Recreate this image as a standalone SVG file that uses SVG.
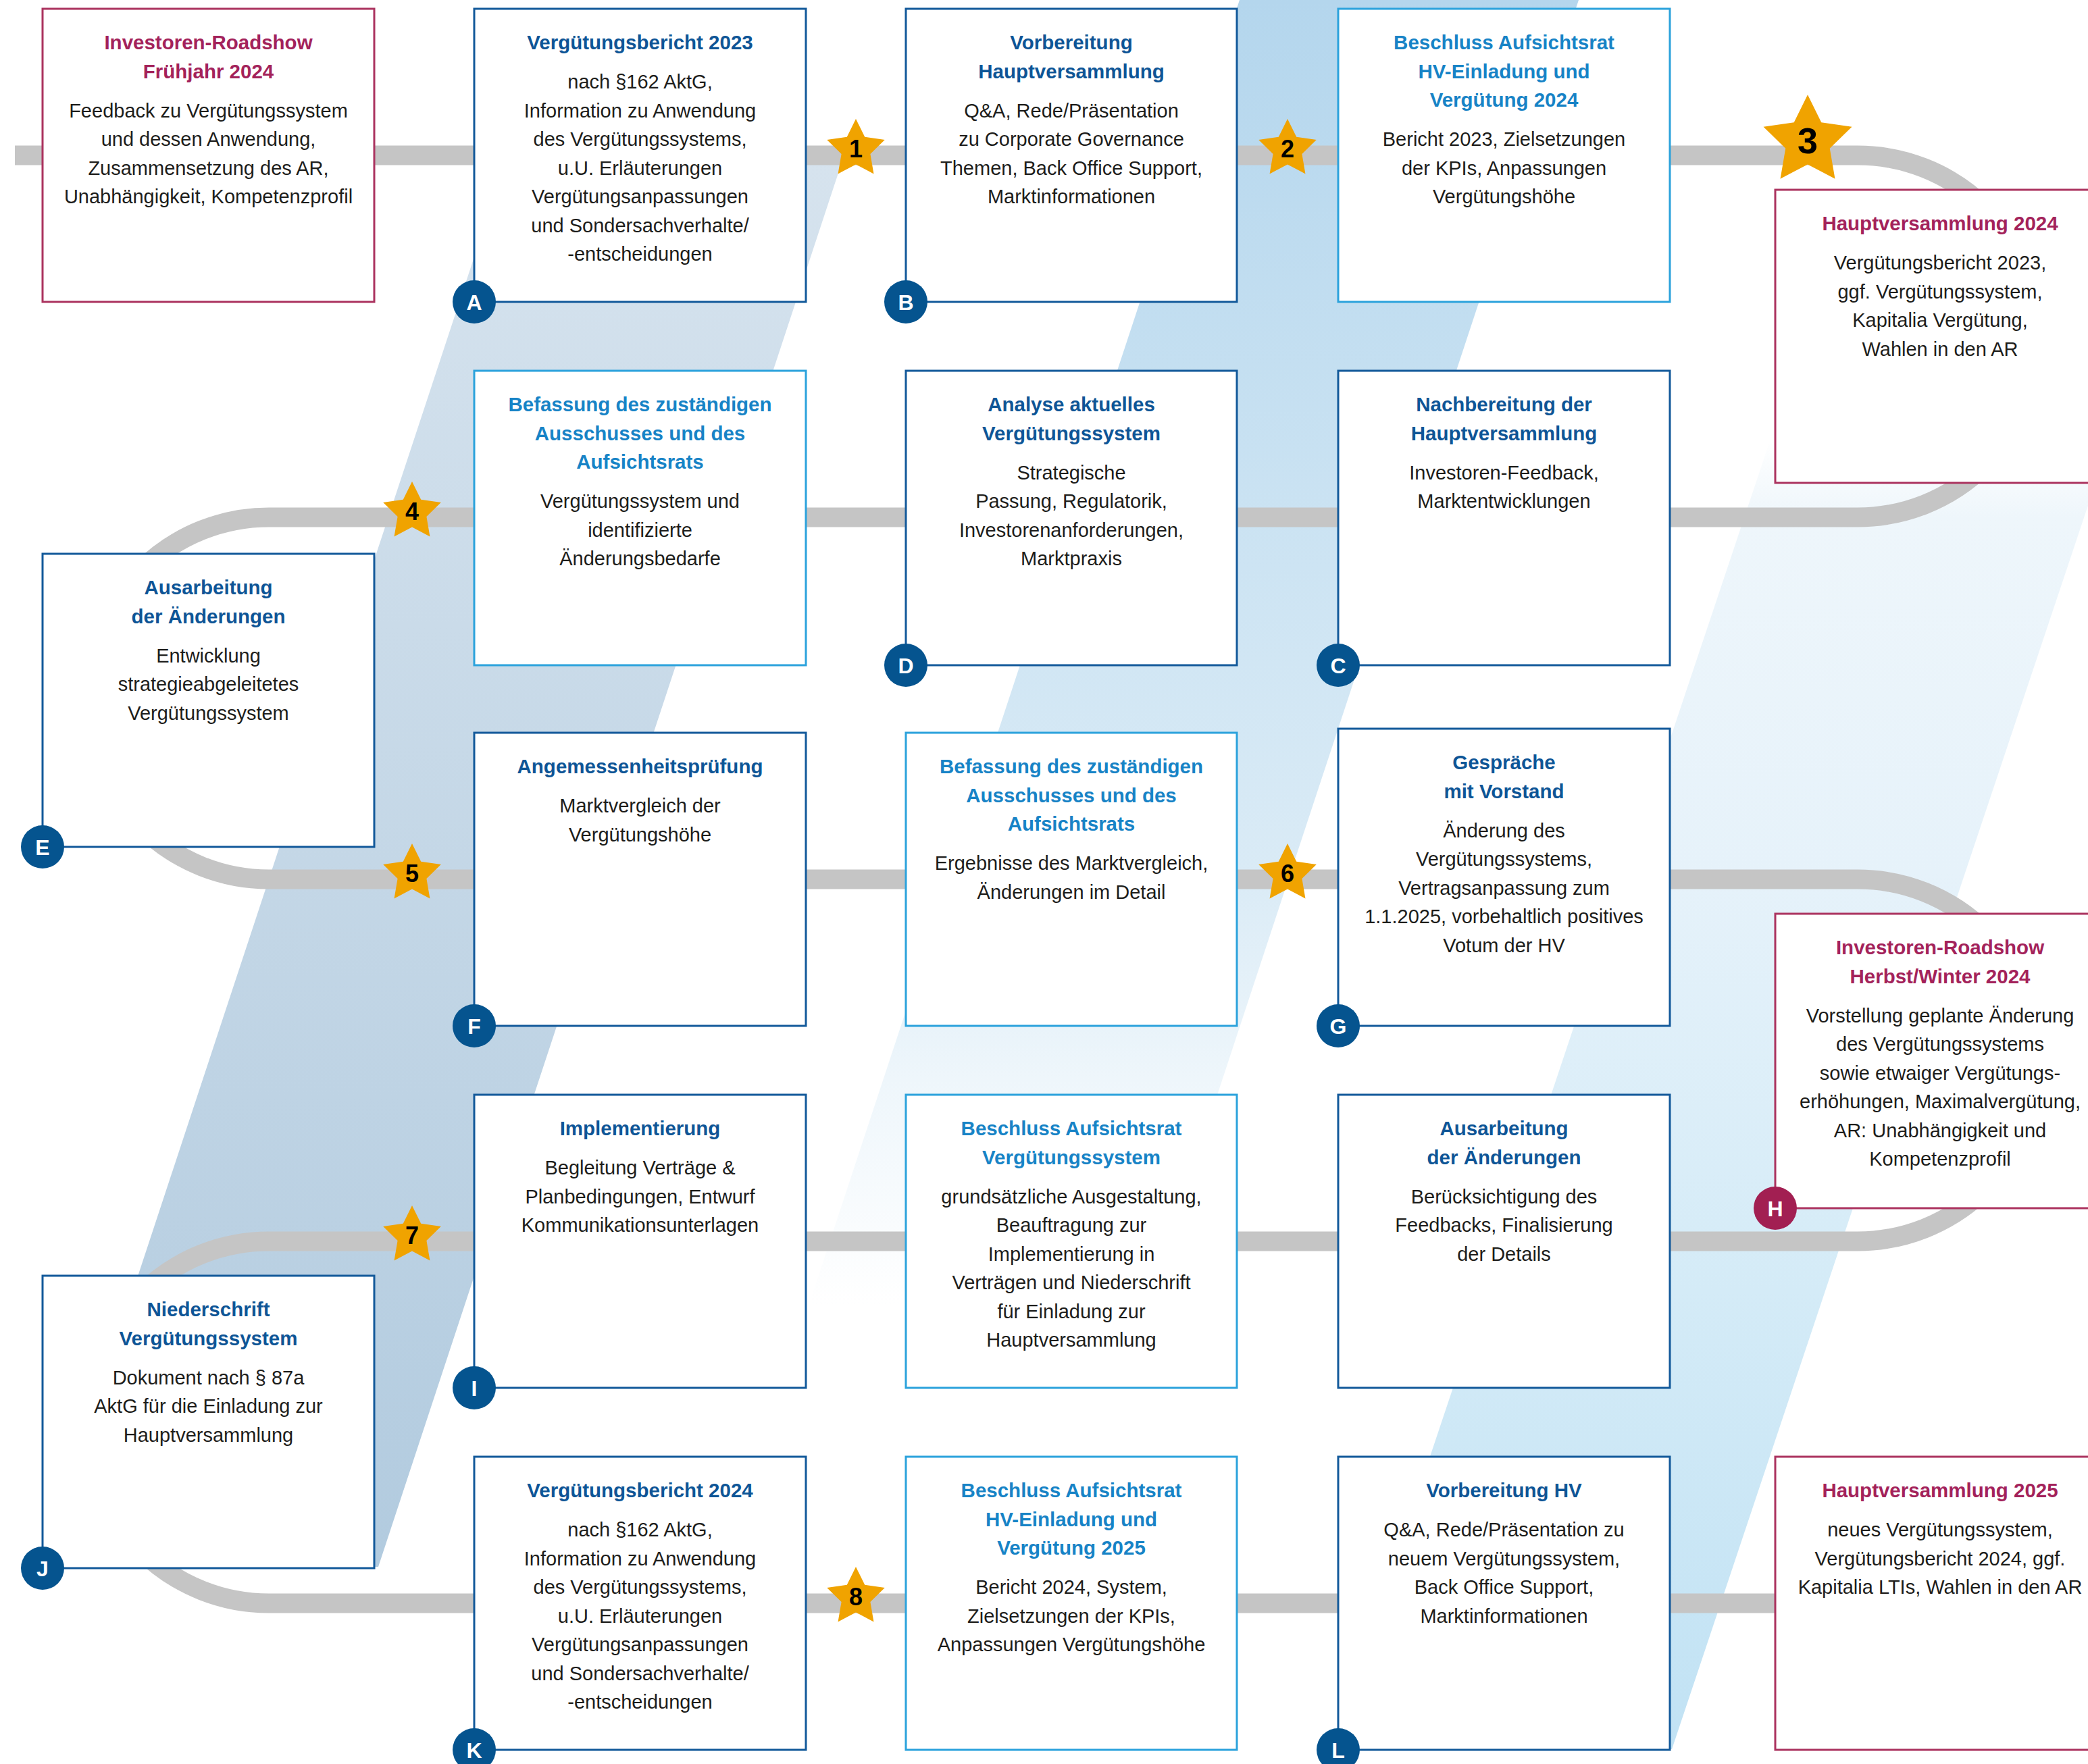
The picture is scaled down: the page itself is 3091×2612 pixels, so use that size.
<svg xmlns="http://www.w3.org/2000/svg" xmlns:xlink="http://www.w3.org/1999/xlink" width="3091" height="2612" viewBox="0 0 3091 2612">
<defs>
<style>
.box{fill:#fff;stroke-width:3}
.dk{stroke:#12599a}
.lt{stroke:#2ba2dc}
.mg{stroke:#ab335f}
text{font-family:"Liberation Sans",Arial,Helvetica,sans-serif;text-anchor:middle}
.b{font-size:29px;fill:#1d1d1b}
.h{font-size:29.5px;font-weight:bold}
.hd{fill:#0e5596}
.hl{fill:#1783c6}
.hm{fill:#a3225a}
.mk{fill:#05548f}
.mkm{fill:#a21f52}
.ml{font-size:32px;font-weight:bold;fill:#fff}
.star{fill:#f0a300}
.sn{font-size:36px;font-weight:bold;fill:#000}
.track{fill:none;stroke:#c5c5c5;stroke-width:29}
</style>
<linearGradient id="g1" gradientUnits="userSpaceOnUse" x1="0" y1="232" x2="0" y2="2320">
<stop offset="0" stop-color="#d6e3ee"/>
<stop offset="1" stop-color="#b2cbdf"/>
</linearGradient>
<linearGradient id="g2" gradientUnits="userSpaceOnUse" x1="0" y1="0" x2="0" y2="2100">
<stop offset="0" stop-color="#b4d6ed"/>
<stop offset="0.4" stop-color="#cde4f3"/>
<stop offset="0.62" stop-color="#daebf6"/>
<stop offset="0.76" stop-color="#eef6fb"/>
<stop offset="0.92" stop-color="#ffffff"/>
<stop offset="1" stop-color="#ffffff"/>
</linearGradient>
<linearGradient id="g3" gradientUnits="userSpaceOnUse" x1="0" y1="650" x2="0" y2="2590">
<stop offset="0" stop-color="#ffffff"/>
<stop offset="0.06" stop-color="#eef6fb"/>
<stop offset="0.33" stop-color="#e6f2fa"/>
<stop offset="0.65" stop-color="#d4ebf7"/>
<stop offset="1" stop-color="#c1e2f4"/>
</linearGradient>
<polygon id="st" points="0,-45 13.23,-18.2 42.8,-13.91 21.4,6.95 26.45,36.41 0,22.5 -26.45,36.41 -21.4,6.95 -42.8,-13.91 -13.23,-18.2"/>
</defs>
<rect width="3091" height="2612" fill="#fff"/>
<g id="background">
<polygon points="751,232 1249,232 560,2320 62,2320" fill="url(#g1)"/>
<polygon points="1835,0 2337,0 1644,2100 1142,2100" fill="url(#g2)"/>
<polygon points="2621,650 3124,650 2475,2590 1972,2590" fill="url(#g3)"/>
</g>
<g id="connectors">
<path class="track" d="M22 230 H2750 A268 268 0 0 1 2750 766 H398 A268 268 0 0 0 398 1302 H2750 A268 268 0 0 1 2750 1838 H398 A268 268 0 0 0 398 2374 H2640"/>
</g>
<g id="n-roadshow-fj">
<rect class="box mg" x="63" y="13" width="491" height="434"/>
<text class="h hm"><tspan x="308.5" y="73">Investoren-Roadshow</tspan><tspan x="308.5" y="115.5">Frühjahr 2024</tspan></text>
<text class="b"><tspan x="308.5" y="173.5">Feedback zu Vergütungssystem</tspan><tspan x="308.5" y="216">und dessen Anwendung,</tspan><tspan x="308.5" y="258.5">Zusammensetzung des AR,</tspan><tspan x="308.5" y="301">Unabhängigkeit, Kompetenzprofil</tspan></text>
</g>
<g id="n-A">
<rect class="box dk" x="702" y="13" width="491" height="434"/>
<text class="h hd"><tspan x="947.5" y="73">Vergütungsbericht 2023</tspan></text>
<text class="b"><tspan x="947.5" y="131">nach §162 AktG,</tspan><tspan x="947.5" y="173.5">Information zu Anwendung</tspan><tspan x="947.5" y="216">des Vergütungssystems,</tspan><tspan x="947.5" y="258.5">u.U. Erläuterungen</tspan><tspan x="947.5" y="301">Vergütungsanpassungen</tspan><tspan x="947.5" y="343.5">und Sondersachverhalte/</tspan><tspan x="947.5" y="386">-entscheidungen</tspan></text>
<circle class="mk" cx="702" cy="447" r="32"/><text class="ml" x="702" y="458.5">A</text>
</g>
<g id="n-B">
<rect class="box dk" x="1341" y="13" width="490" height="434"/>
<text class="h hd"><tspan x="1586" y="73">Vorbereitung</tspan><tspan x="1586" y="115.5">Hauptversammlung</tspan></text>
<text class="b"><tspan x="1586" y="173.5">Q&amp;A, Rede/Präsentation</tspan><tspan x="1586" y="216">zu Corporate Governance</tspan><tspan x="1586" y="258.5">Themen, Back Office Support,</tspan><tspan x="1586" y="301">Marktinformationen</tspan></text>
<circle class="mk" cx="1341" cy="447" r="32"/><text class="ml" x="1341" y="458.5">B</text>
</g>
<g id="n-beschluss-2024">
<rect class="box lt" x="1981" y="13" width="491" height="434"/>
<text class="h hl"><tspan x="2226.5" y="73">Beschluss Aufsichtsrat</tspan><tspan x="2226.5" y="115.5">HV-Einladung und</tspan><tspan x="2226.5" y="158">Vergütung 2024</tspan></text>
<text class="b"><tspan x="2226.5" y="216">Bericht 2023, Zielsetzungen</tspan><tspan x="2226.5" y="258.5">der KPIs, Anpassungen</tspan><tspan x="2226.5" y="301">Vergütungshöhe</tspan></text>
</g>
<g id="n-hv2024">
<rect class="box mg" x="2628" y="281" width="488" height="434"/>
<text class="h hm"><tspan x="2872" y="341">Hauptversammlung 2024</tspan></text>
<text class="b"><tspan x="2872" y="399">Vergütungsbericht 2023,</tspan><tspan x="2872" y="441.5">ggf. Vergütungssystem,</tspan><tspan x="2872" y="484">Kapitalia Vergütung,</tspan><tspan x="2872" y="526.5">Wahlen in den AR</tspan></text>
</g>
<g id="n-befassung-1">
<rect class="box lt" x="702" y="549" width="491" height="436"/>
<text class="h hl"><tspan x="947.5" y="609">Befassung des zuständigen</tspan><tspan x="947.5" y="651.5">Ausschusses und des</tspan><tspan x="947.5" y="694">Aufsichtsrats</tspan></text>
<text class="b"><tspan x="947.5" y="752">Vergütungssystem und</tspan><tspan x="947.5" y="794.5">identifizierte</tspan><tspan x="947.5" y="837">Änderungsbedarfe</tspan></text>
</g>
<g id="n-D">
<rect class="box dk" x="1341" y="549" width="490" height="436"/>
<text class="h hd"><tspan x="1586" y="609">Analyse aktuelles</tspan><tspan x="1586" y="651.5">Vergütungssystem</tspan></text>
<text class="b"><tspan x="1586" y="709.5">Strategische</tspan><tspan x="1586" y="752">Passung, Regulatorik,</tspan><tspan x="1586" y="794.5">Investorenanforderungen,</tspan><tspan x="1586" y="837">Marktpraxis</tspan></text>
<circle class="mk" cx="1341" cy="985" r="32"/><text class="ml" x="1341" y="996.5">D</text>
</g>
<g id="n-C">
<rect class="box dk" x="1981" y="549" width="491" height="436"/>
<text class="h hd"><tspan x="2226.5" y="609">Nachbereitung der</tspan><tspan x="2226.5" y="651.5">Hauptversammlung</tspan></text>
<text class="b"><tspan x="2226.5" y="709.5">Investoren-Feedback,</tspan><tspan x="2226.5" y="752">Marktentwicklungen</tspan></text>
<circle class="mk" cx="1981" cy="985" r="32"/><text class="ml" x="1981" y="996.5">C</text>
</g>
<g id="n-E">
<rect class="box dk" x="63" y="820" width="491" height="434"/>
<text class="h hd"><tspan x="308.5" y="880">Ausarbeitung</tspan><tspan x="308.5" y="922.5">der Änderungen</tspan></text>
<text class="b"><tspan x="308.5" y="980.5">Entwicklung</tspan><tspan x="308.5" y="1023">strategieabgeleitetes</tspan><tspan x="308.5" y="1065.5">Vergütungssystem</tspan></text>
<circle class="mk" cx="63" cy="1254" r="32"/><text class="ml" x="63" y="1265.5">E</text>
</g>
<g id="n-F">
<rect class="box dk" x="702" y="1085" width="491" height="434"/>
<text class="h hd"><tspan x="947.5" y="1145">Angemessenheitsprüfung</tspan></text>
<text class="b"><tspan x="947.5" y="1203">Marktvergleich der</tspan><tspan x="947.5" y="1245.5">Vergütungshöhe</tspan></text>
<circle class="mk" cx="702" cy="1519" r="32"/><text class="ml" x="702" y="1530.5">F</text>
</g>
<g id="n-befassung-2">
<rect class="box lt" x="1341" y="1085" width="490" height="434"/>
<text class="h hl"><tspan x="1586" y="1145">Befassung des zuständigen</tspan><tspan x="1586" y="1187.5">Ausschusses und des</tspan><tspan x="1586" y="1230">Aufsichtsrats</tspan></text>
<text class="b"><tspan x="1586" y="1288">Ergebnisse des Marktvergleich,</tspan><tspan x="1586" y="1330.5">Änderungen im Detail</tspan></text>
</g>
<g id="n-G">
<rect class="box dk" x="1981" y="1079" width="491" height="440"/>
<text class="h hd"><tspan x="2226.5" y="1139">Gespräche</tspan><tspan x="2226.5" y="1181.5">mit Vorstand</tspan></text>
<text class="b"><tspan x="2226.5" y="1239.5">Änderung des</tspan><tspan x="2226.5" y="1282">Vergütungssystems,</tspan><tspan x="2226.5" y="1324.5">Vertragsanpassung zum</tspan><tspan x="2226.5" y="1367">1.1.2025, vorbehaltlich positives</tspan><tspan x="2226.5" y="1409.5">Votum der HV</tspan></text>
<circle class="mk" cx="1981" cy="1519" r="32"/><text class="ml" x="1981" y="1530.5">G</text>
</g>
<g id="n-H">
<rect class="box mg" x="2628" y="1353" width="488" height="436"/>
<text class="h hm"><tspan x="2872" y="1413">Investoren-Roadshow</tspan><tspan x="2872" y="1455.5">Herbst/Winter 2024</tspan></text>
<text class="b"><tspan x="2872" y="1513.5">Vorstellung geplante Änderung</tspan><tspan x="2872" y="1556">des Vergütungssystems</tspan><tspan x="2872" y="1598.5">sowie etwaiger Vergütungs-</tspan><tspan x="2872" y="1641">erhöhungen, Maximalvergütung,</tspan><tspan x="2872" y="1683.5">AR: Unabhängigkeit und</tspan><tspan x="2872" y="1726">Kompetenzprofil</tspan></text>
<circle class="mkm" cx="2628" cy="1789" r="32"/><text class="ml" x="2628" y="1800.5">H</text>
</g>
<g id="n-I">
<rect class="box dk" x="702" y="1621" width="491" height="434"/>
<text class="h hd"><tspan x="947.5" y="1681">Implementierung</tspan></text>
<text class="b"><tspan x="947.5" y="1739">Begleitung Verträge &amp;</tspan><tspan x="947.5" y="1781.5">Planbedingungen, Entwurf</tspan><tspan x="947.5" y="1824">Kommunikationsunterlagen</tspan></text>
<circle class="mk" cx="702" cy="2055" r="32"/><text class="ml" x="702" y="2066.5">I</text>
</g>
<g id="n-beschluss-vs">
<rect class="box lt" x="1341" y="1621" width="490" height="434"/>
<text class="h hl"><tspan x="1586" y="1681">Beschluss Aufsichtsrat</tspan><tspan x="1586" y="1723.5">Vergütungssystem</tspan></text>
<text class="b"><tspan x="1586" y="1781.5">grundsätzliche Ausgestaltung,</tspan><tspan x="1586" y="1824">Beauftragung zur</tspan><tspan x="1586" y="1866.5">Implementierung in</tspan><tspan x="1586" y="1909">Verträgen und Niederschrift</tspan><tspan x="1586" y="1951.5">für Einladung zur</tspan><tspan x="1586" y="1994">Hauptversammlung</tspan></text>
</g>
<g id="n-ausarbeitung-2">
<rect class="box dk" x="1981" y="1621" width="491" height="434"/>
<text class="h hd"><tspan x="2226.5" y="1681">Ausarbeitung</tspan><tspan x="2226.5" y="1723.5">der Änderungen</tspan></text>
<text class="b"><tspan x="2226.5" y="1781.5">Berücksichtigung des</tspan><tspan x="2226.5" y="1824">Feedbacks, Finalisierung</tspan><tspan x="2226.5" y="1866.5">der Details</tspan></text>
</g>
<g id="n-J">
<rect class="box dk" x="63" y="1889" width="491" height="433"/>
<text class="h hd"><tspan x="308.5" y="1949">Niederschrift</tspan><tspan x="308.5" y="1991.5">Vergütungssystem</tspan></text>
<text class="b"><tspan x="308.5" y="2049.5">Dokument nach § 87a</tspan><tspan x="308.5" y="2092">AktG für die Einladung zur</tspan><tspan x="308.5" y="2134.5">Hauptversammlung</tspan></text>
<circle class="mk" cx="63" cy="2322" r="32"/><text class="ml" x="63" y="2333.5">J</text>
</g>
<g id="n-K">
<rect class="box dk" x="702" y="2157" width="491" height="434"/>
<text class="h hd"><tspan x="947.5" y="2217">Vergütungsbericht 2024</tspan></text>
<text class="b"><tspan x="947.5" y="2275">nach §162 AktG,</tspan><tspan x="947.5" y="2317.5">Information zu Anwendung</tspan><tspan x="947.5" y="2360">des Vergütungssystems,</tspan><tspan x="947.5" y="2402.5">u.U. Erläuterungen</tspan><tspan x="947.5" y="2445">Vergütungsanpassungen</tspan><tspan x="947.5" y="2487.5">und Sondersachverhalte/</tspan><tspan x="947.5" y="2530">-entscheidungen</tspan></text>
<circle class="mk" cx="702" cy="2591" r="32"/><text class="ml" x="702" y="2602.5">K</text>
</g>
<g id="n-beschluss-2025">
<rect class="box lt" x="1341" y="2157" width="490" height="434"/>
<text class="h hl"><tspan x="1586" y="2217">Beschluss Aufsichtsrat</tspan><tspan x="1586" y="2259.5">HV-Einladung und</tspan><tspan x="1586" y="2302">Vergütung 2025</tspan></text>
<text class="b"><tspan x="1586" y="2360">Bericht 2024, System,</tspan><tspan x="1586" y="2402.5">Zielsetzungen der KPIs,</tspan><tspan x="1586" y="2445">Anpassungen Vergütungshöhe</tspan></text>
</g>
<g id="n-L">
<rect class="box dk" x="1981" y="2157" width="491" height="434"/>
<text class="h hd"><tspan x="2226.5" y="2217">Vorbereitung HV</tspan></text>
<text class="b"><tspan x="2226.5" y="2275">Q&amp;A, Rede/Präsentation zu</tspan><tspan x="2226.5" y="2317.5">neuem Vergütungssystem,</tspan><tspan x="2226.5" y="2360">Back Office Support,</tspan><tspan x="2226.5" y="2402.5">Marktinformationen</tspan></text>
<circle class="mk" cx="1981" cy="2591" r="32"/><text class="ml" x="1981" y="2602.5">L</text>
</g>
<g id="n-hv2025">
<rect class="box mg" x="2628" y="2157" width="488" height="434"/>
<text class="h hm"><tspan x="2872" y="2217">Hauptversammlung 2025</tspan></text>
<text class="b"><tspan x="2872" y="2275">neues Vergütungssystem,</tspan><tspan x="2872" y="2317.5">Vergütungsbericht 2024, ggf.</tspan><tspan x="2872" y="2360">Kapitalia LTIs, Wahlen in den AR</tspan></text>
</g>
<g id="milestones">
<use xlink:href="#st" class="star" transform="translate(1267,221)"/><text class="sn" x="1267" y="233">1</text>
<use xlink:href="#st" class="star" transform="translate(1906,221)"/><text class="sn" x="1906" y="233">2</text>
<use xlink:href="#st" class="star" transform="translate(2676,209) scale(1.53)"/><text class="sn" style="font-size:54px" x="2676" y="227">3</text>
<use xlink:href="#st" class="star" transform="translate(610,758)"/><text class="sn" x="610" y="770">4</text>
<use xlink:href="#st" class="star" transform="translate(610,1294)"/><text class="sn" x="610" y="1306">5</text>
<use xlink:href="#st" class="star" transform="translate(1906,1294)"/><text class="sn" x="1906" y="1306">6</text>
<use xlink:href="#st" class="star" transform="translate(610,1830)"/><text class="sn" x="610" y="1842">7</text>
<use xlink:href="#st" class="star" transform="translate(1267,2365)"/><text class="sn" x="1267" y="2377">8</text>
</g>
</svg>
